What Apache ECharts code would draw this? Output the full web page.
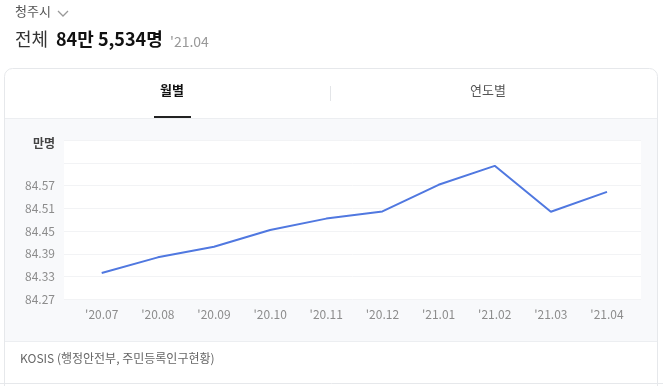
<!DOCTYPE html>
<html><head><meta charset="utf-8">
<script src="https://cdn.jsdelivr.net/npm/echarts@6/dist/echarts.min.js"></script>
<style>html,body{margin:0;padding:0;background:#fff}#c{width:663px;height:386px}</style>
</head><body><div id="c"></div>
<script>
const categories = ["'20.07","'20.08","'20.09","'20.10","'20.11","'20.12","'21.01","'21.02","'21.03","'21.04"];
const population = [84.34, 84.381, 84.409, 84.453, 84.483, 84.502, 84.572, 84.622, 84.501, 84.5534];
const yMin = 84.27, yMax = 84.69, yStep = 0.06;
const hiddenTicks = ['84.63', '84.69'];

const F = '"Noto Sans CJK KR", "Noto Sans", sans-serif';
const chart = echarts.init(document.getElementById('c'), null, {renderer: 'canvas'});
chart.setOption({
  animation: false,
  textStyle: {fontFamily: F},
  graphic: [
    {type: 'text', left: 15, top: 5, style: {text: '청주시', fontFamily: F, fontSize: 13, fill: '#555'}},
    {type: 'polyline', shape: {points: [[58, 11], [63, 16], [68, 11]]}, style: {stroke: '#999', lineWidth: 1.3, fill: null}},
    {type: 'text', left: 15, top: 30, style: {text: '전체', fontFamily: F, fontSize: 18, fill: '#333'}},
    {type: 'text', left: 56, top: 30, style: {text: '84만 5,534명', fontFamily: F, fontSize: 18, fontWeight: 'bold', fill: '#111'}},
    {type: 'text', left: 170, top: 35, style: {text: "'21.04", fontFamily: F, fontSize: 14, fill: '#999'}},
    {type: 'rect', z: -10, shape: {x: 4.5, y: 68.5, width: 653, height: 330, r: 8}, style: {fill: '#fff', stroke: '#e6e8eb', lineWidth: 1}},
    {type: 'rect', z: -9, shape: {x: 5, y: 118, width: 652, height: 223}, style: {fill: '#f8f9fb'}},
    {type: 'line', z: -8, shape: {x1: 5, y1: 118.5, x2: 657, y2: 118.5}, style: {stroke: '#eceef1', lineWidth: 1}},
    {type: 'line', z: -8, shape: {x1: 5, y1: 341.5, x2: 657, y2: 341.5}, style: {stroke: '#eceef1', lineWidth: 1}},
    {type: 'line', z: -8, shape: {x1: 0, y1: 383.5, x2: 663, y2: 383.5}, style: {stroke: '#e6e8eb', lineWidth: 1}},
    {type: 'text', left: 160, top: 84, style: {text: '월별', fontFamily: F, fontSize: 13, fontWeight: 'bold', fill: '#111'}},
    {type: 'rect', shape: {x: 154, y: 116, width: 37, height: 2}, style: {fill: '#222'}},
    {type: 'line', shape: {x1: 330.5, y1: 86, x2: 330.5, y2: 101}, style: {stroke: '#e3e5e8', lineWidth: 1}},
    {type: 'text', left: 470, top: 84, style: {text: '연도별', fontFamily: F, fontSize: 13, fill: '#555'}},
    {type: 'text', right: 608, top: 137, style: {text: '만명', fontFamily: F, fontSize: 12, fontWeight: 'bold', fill: '#444', align: 'right'}},
    {type: 'text', left: 20, top: 352, style: {text: 'KOSIS (행정안전부, 주민등록인구현황)', fontFamily: F, fontSize: 12, fill: '#666'}}
  ],
  grid: [
    {left: 64, right: 22, top: 140, bottom: 86.5, show: true, backgroundColor: '#fff', borderWidth: 0},
    {left: 101.7, right: 56, top: 140, bottom: 86.5}
  ],
  xAxis: [
    {gridIndex: 0, type: 'category', data: categories, show: false},
    {gridIndex: 1, type: 'category', data: categories, boundaryGap: false,
     axisLine: {show: false}, axisTick: {show: false},
     axisLabel: {color: '#8c8c8c', fontSize: 12, margin: 9, fontFamily: F}}
  ],
  yAxis: [
    {gridIndex: 0, type: 'value', min: yMin, max: yMax, interval: yStep,
     axisLine: {show: false}, axisTick: {show: false},
     splitLine: {show: true, lineStyle: {color: '#f2f3f5', width: 1}},
     axisLabel: {color: '#8c8c8c', fontSize: 12, margin: 9, fontFamily: F,
       formatter: v => { const s = v.toFixed(2); return hiddenTicks.includes(s) ? '' : s; }}},
    {gridIndex: 1, type: 'value', min: yMin, max: yMax, interval: yStep, show: false, splitLine: {show: false}}
  ],
  series: [{
    type: 'line', xAxisIndex: 1, yAxisIndex: 1, data: population,
    symbol: 'none', lineStyle: {color: '#5078e0', width: 2}, itemStyle: {color: '#5078e0'}
  }]
});
</script></body></html>
